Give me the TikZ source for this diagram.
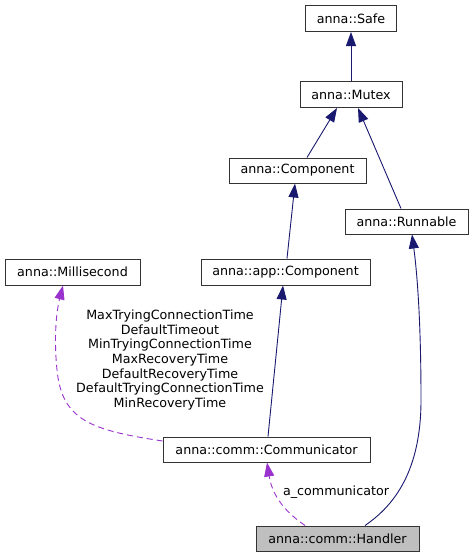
\documentclass[tikz,border=0pt]{standalone}
\usepackage{fontspec}
\setmainfont{DejaVu Sans}
\usetikzlibrary{arrows.meta,calc}
\definecolor{edgeblue}{HTML}{191970}
\definecolor{edgepurple}{HTML}{9A32CD}
\definecolor{boxgray}{HTML}{BFBFBF}
\definecolor{boxline}{HTML}{333333}
\begin{document}
\begin{tikzpicture}[x=1pt,y=-1pt,
  cls/.style={draw=boxline,line width=1pt,fill=white,inner sep=0pt,font=\fontsize{12.7}{14.7}\selectfont},
  inh/.style={draw=edgeblue,line width=0.9pt,-{Triangle[length=14pt,width=10pt]}},
  use/.style={draw=edgepurple,line width=0.9pt,dash pattern=on 6pt off 4pt,-{Triangle[length=14pt,width=10pt]}},
  lbl/.style={font=\fontsize{12.7}{14.7}\selectfont,align=center,inner sep=0pt}]
\useasboundingbox (0,0) rectangle (474,557);
\node[cls,minimum width=91pt,minimum height=26pt] (safe) at (351,18.5) {anna::Safe};
\node[cls,minimum width=102pt,minimum height=26pt] (mutex) at (351,94.5) {anna::Mutex};
\node[cls,minimum width=137pt,minimum height=25pt] (comp) at (297.5,170.5) {anna::Component};
\node[cls,minimum width=123pt,minimum height=25pt] (runnable) at (406.5,221.5) {anna::Runnable};
\node[cls,minimum width=169pt,minimum height=26pt] (appcomp) at (285.5,272) {anna::app::Component};
\node[cls,minimum width=135pt,minimum height=26pt] (milli) at (72.5,272) {anna::Millisecond};
\node[cls,minimum width=207pt,minimum height=25pt] (communicator) at (266.5,449.5) {anna::comm::Communicator};
\node[cls,fill=boxgray,minimum width=163pt,minimum height=25pt] (handler) at (337.5,538.5) {anna::comm::Handler};

\draw[inh] (mutex.north) -- (safe.south);
\draw[inh] ($(comp.north)+(9.5,0)$) -- ($(mutex.south)+(-14,0)$);
\draw[inh] ($(runnable.north)+(-5.5,0)$) -- ($(mutex.south)+(7,0)$);
\draw[inh] ($(appcomp.north)+(1.5,0)$) -- ($(comp.south)+(-2.5,0)$);
\draw[inh] ($(communicator.north)+(1.5,0)$) -- ($(appcomp.south)+(-2.5,0)$);
\coordinate (hr) at ($(handler.north)+(27.5,0)$);
\coordinate (rmid) at (421,400);
\draw[inh] (hr) .. controls (395,505) and (421,470) .. (rmid) .. controls (421,330) and (418,280) .. ($(runnable.south)+(5.5,0)$);

\coordinate (cm) at ($(communicator.west)+(0,-8.5)$);
\coordinate (mmid) at (57,370);
\draw[use] (cm) .. controls (90,430) and (62,420) .. (mmid) .. controls (53,330) and (58,305) .. ($(milli.south)+(-9.5,0)$);
\draw[use] ($(handler.north)+(-32.5,0)$) .. controls (290,515) and (273,500) .. ($(communicator.south)+(0.5,0)$);

\node[lbl] (lmilli) at (170,360) {MaxTryingConnectionTime\\DefaultTimeout\\MinTryingConnectionTime\\MaxRecoveryTime\\DefaultRecoveryTime\\DefaultTryingConnectionTime\\MinRecoveryTime};
\node[lbl] (lcomm) at (336,492) {a\_communicator};
\end{tikzpicture}
\end{document}
